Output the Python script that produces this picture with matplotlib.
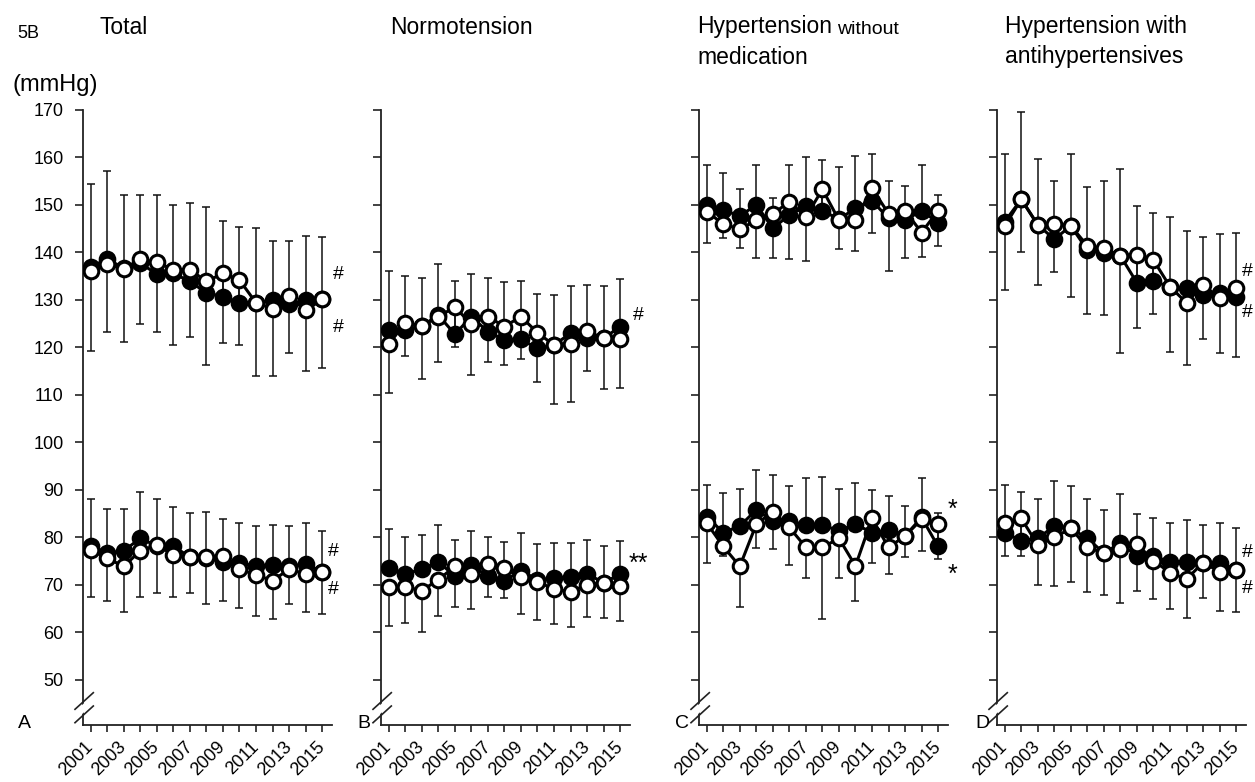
import matplotlib
matplotlib.use("Agg")
import matplotlib.pyplot as plt
from matplotlib.patches import Polygon
from matplotlib.lines import Line2D

plt.rcParams['font.family'] = ['Liberation Sans', 'DejaVu Sans']

years = list(range(2001, 2016))
year_labels = [str(y) if y % 2 == 1 else '' for y in years]
yticks = list(range(50, 171, 10))

# A - Total
a_sbp_f = [137.0, 138.6, 136.7, 137.7, 135.5, 135.6, 133.9, 131.5, 130.7, 129.4, 129.4, 130.0, 129.2, 129.9, 130.1]
a_sbp_o = [136.0, 137.6, 136.5, 138.6, 137.9, 136.4, 136.4, 133.9, 135.6, 134.2, 129.4, 128.2, 130.8, 127.8, 130.1]
a_sbp_hi = [154.4, 157.2, 152.2, 152.0, 152.2, 149.9, 150.5, 149.6, 146.6, 145.3, 145.1, 142.5, 142.5, 143.5, 143.2]
a_sbp_lo = [119.3, 123.3, 121.2, 124.9, 123.3, 120.5, 122.1, 116.2, 121.0, 120.5, 113.9, 113.9, 118.8, 115.1, 115.6]
a_dbp_f = [78.2, 76.7, 77.2, 79.8, 78.2, 78.2, 75.8, 75.6, 74.9, 74.6, 74.0, 74.2, 73.9, 74.4, 72.8]
a_dbp_o = [77.4, 75.6, 73.9, 77.2, 78.4, 76.3, 75.8, 75.8, 76.0, 73.3, 72.1, 70.9, 73.3, 72.3, 72.8]
a_dbp_hi = [88.0, 85.9, 85.9, 89.6, 88.0, 86.5, 85.2, 85.4, 83.9, 83.1, 82.4, 82.6, 82.4, 83.1, 81.4]
a_dbp_lo = [67.4, 66.6, 64.2, 67.4, 68.2, 67.4, 68.2, 65.9, 66.6, 65.1, 63.5, 62.8, 65.9, 64.2, 63.9]

# B - Normotension
b_sbp_f = [123.7, 123.7, 124.5, 126.8, 122.8, 126.5, 123.3, 121.6, 121.7, 119.8, 120.5, 123.0, 121.9, 121.9, 124.4]
b_sbp_o = [120.7, 125.2, 124.5, 126.5, 128.5, 124.9, 126.5, 124.4, 126.5, 123.1, 120.5, 120.7, 123.5, 121.9, 121.7]
b_sbp_hi = [136.2, 135.1, 134.7, 137.6, 134.0, 135.5, 134.7, 133.7, 134.0, 131.3, 131.1, 132.9, 133.2, 132.9, 134.4]
b_sbp_lo = [110.5, 118.1, 113.4, 116.9, 120.2, 114.2, 116.9, 116.2, 117.5, 112.8, 108.0, 108.5, 115.1, 111.3, 111.5]
b_dbp_f = [73.5, 72.3, 73.3, 74.9, 71.8, 74.2, 71.8, 70.9, 73.0, 71.1, 71.4, 71.6, 72.3, 70.5, 72.2]
b_dbp_o = [69.5, 69.6, 68.8, 71.1, 73.9, 72.3, 74.4, 73.5, 71.6, 70.7, 69.1, 68.6, 70.0, 70.5, 69.8]
b_dbp_hi = [81.8, 80.0, 80.5, 82.6, 79.5, 81.4, 80.0, 79.0, 80.9, 78.6, 78.8, 78.8, 79.5, 78.2, 79.3]
b_dbp_lo = [61.4, 61.9, 60.0, 63.5, 65.4, 64.9, 67.4, 67.3, 63.8, 62.6, 61.7, 61.2, 63.3, 63.1, 62.3]

# C - Hypertension without medication
c_sbp_f = [150.0, 148.9, 147.7, 150.0, 145.1, 147.9, 149.8, 148.8, 147.0, 149.3, 150.9, 147.2, 146.8, 148.8, 146.3]
c_sbp_o = [148.6, 146.0, 144.9, 146.8, 148.1, 150.7, 147.5, 153.3, 146.8, 146.8, 153.5, 148.2, 148.8, 144.2, 148.8]
c_sbp_hi = [158.4, 156.7, 153.3, 158.4, 151.5, 158.4, 160.0, 159.5, 157.9, 160.3, 160.7, 155.1, 154.0, 158.4, 152.2]
c_sbp_lo = [141.9, 143.0, 140.9, 138.9, 138.9, 138.6, 138.3, 148.8, 140.7, 140.4, 144.2, 136.0, 138.9, 139.1, 141.4]
c_dbp_f = [84.4, 81.0, 82.4, 85.8, 83.5, 83.5, 82.6, 82.6, 81.4, 82.8, 81.0, 81.6, 80.3, 84.2, 78.1]
c_dbp_o = [83.0, 78.1, 73.9, 82.8, 85.4, 82.1, 77.9, 77.9, 79.8, 74.0, 84.0, 77.9, 80.3, 83.8, 82.8]
c_dbp_hi = [91.1, 89.3, 90.1, 94.2, 93.2, 90.8, 92.5, 92.7, 90.1, 91.4, 89.9, 88.8, 86.7, 92.5, 85.1]
c_dbp_lo = [74.6, 76.1, 65.4, 77.7, 77.5, 74.2, 71.5, 62.8, 71.5, 66.7, 74.6, 72.3, 75.8, 77.2, 75.4]

# D - Hypertension with antihypertensives
d_sbp_f = [146.5, 151.2, 145.8, 142.8, 145.6, 140.5, 139.8, 139.3, 133.6, 133.9, 132.8, 132.5, 131.1, 131.4, 130.6]
d_sbp_o = [145.6, 151.2, 145.8, 146.0, 145.6, 141.4, 140.9, 139.3, 139.5, 138.4, 132.8, 129.4, 133.2, 130.4, 132.5]
d_sbp_hi = [160.7, 169.5, 159.6, 155.1, 160.7, 153.7, 155.1, 157.6, 149.8, 148.4, 147.5, 144.6, 143.2, 143.8, 144.2]
d_sbp_lo = [132.1, 140.0, 133.2, 135.8, 130.6, 127.1, 126.8, 118.8, 124.2, 127.1, 119.1, 116.3, 121.8, 118.8, 117.9]
d_dbp_f = [81.0, 79.3, 79.8, 82.4, 81.9, 79.8, 76.7, 78.8, 76.1, 76.0, 74.9, 74.9, 74.7, 74.6, 73.2]
d_dbp_o = [83.1, 84.0, 78.4, 80.0, 81.9, 77.9, 76.7, 77.5, 78.6, 75.1, 72.6, 71.2, 74.7, 72.8, 73.2]
d_dbp_hi = [91.1, 89.6, 88.0, 91.8, 90.8, 88.0, 85.8, 89.1, 84.9, 84.0, 83.1, 83.7, 82.6, 83.1, 81.9]
d_dbp_lo = [76.1, 76.1, 70.0, 69.8, 70.7, 68.5, 67.9, 66.1, 68.7, 67.0, 64.9, 63.0, 67.2, 64.6, 64.2]

# significance marks per panel: (x, y, text, size)
a_marks = [(2016.0, 135.3, '#', 14), (2016.0, 124.1, '#', 14), (2015.7, 77.0, '#', 14), (2015.7, 69.0, '#', 14)]
b_marks = [(2016.1, 126.8, '#', 14), (2016.1, 74.4, '**', 18)]
c_marks = [(2015.9, 85.8, '*', 18), (2015.9, 72.1, '*', 18)]
d_marks = [(2015.7, 135.9, '#', 14), (2015.7, 127.3, '#', 14), (2015.7, 76.9, '#', 14), (2015.7, 69.2, '#', 14)]

W, H = 1255, 782
fig = plt.figure(figsize=(W / 100, H / 100), dpi=100)


def fx(x):
    return x / W


def fy(y):
    return 1 - y / H


ax_left = [83, 381, 699, 997]
ax_w, ax_top, ax_bot = 249, 110, 725
ax_h = ax_bot - ax_top


def draw_group(ax, filled, opened, hi, lo):
    up = [max(0, h - f) for h, f in zip(hi, filled)]
    dn = [max(0, o - l) for o, l in zip(opened, lo)]
    zeros = [0] * len(years)
    ax.errorbar(years, filled, yerr=[zeros, up], fmt='none', ecolor='#111111',
                elinewidth=1.1, capsize=3, capthick=1.1, zorder=1)
    ax.errorbar(years, opened, yerr=[dn, zeros], fmt='none', ecolor='#111111',
                elinewidth=1.1, capsize=3, capthick=1.1, zorder=1)
    ax.plot(years, filled, '-o', color='black', mfc='black', mec='black',
            ms=10.5, lw=2.2, mew=2.2, zorder=3)
    ax.plot(years, opened, '-o', color='black', mfc='white', mec='black',
            ms=10.5, lw=2.2, mew=2.2, zorder=4)


panels = [
    (a_sbp_f, a_sbp_o, a_sbp_hi, a_sbp_lo, a_dbp_f, a_dbp_o, a_dbp_hi, a_dbp_lo, a_marks, 'A', 24),
    (b_sbp_f, b_sbp_o, b_sbp_hi, b_sbp_lo, b_dbp_f, b_dbp_o, b_dbp_hi, b_dbp_lo, b_marks, 'B', 364),
    (c_sbp_f, c_sbp_o, c_sbp_hi, c_sbp_lo, c_dbp_f, c_dbp_o, c_dbp_hi, c_dbp_lo, c_marks, 'C', 682),
    (d_sbp_f, d_sbp_o, d_sbp_hi, d_sbp_lo, d_dbp_f, d_dbp_o, d_dbp_hi, d_dbp_lo, d_marks, 'D', 982),
]

for i, p in enumerate(panels):
    ax = fig.add_axes([fx(ax_left[i]), fy(ax_bot), ax_w / W, ax_h / H])
    draw_group(ax, p[0], p[1], p[2], p[3])
    draw_group(ax, p[4], p[5], p[6], p[7])
    for mx, my, mt, ms in p[8]:
        ax.text(mx, my, mt, fontsize=ms, ha='center', va='center', clip_on=False)

    ax.set_xlim(2000.53, 2015.6)
    ax.set_ylim(40.5, 170)
    ax.spines[['top', 'right']].set_visible(False)
    for s in ['left', 'bottom']:
        ax.spines[s].set_linewidth(1.3)
        ax.spines[s].set_color('#222222')
    ax.set_yticks(yticks)
    ax.set_xticks(years)
    ax.set_xticklabels(year_labels, rotation=45, ha='right', va='center',
                       rotation_mode='anchor', fontsize=13)
    ax.tick_params(axis='x', direction='out', length=5, width=1.2, pad=9, color='#222222')
    ax.tick_params(axis='y', direction='out', length=6, width=1.2, pad=8,
                   labelsize=13, color='#222222')
    if i > 0:
        ax.tick_params(axis='y', labelleft=False)

    # axis break on the y axis
    def px(dx, dy):
        return (dx / ax_w, dy / ax_h)
    gap = Polygon([px(-8, 4.5), px(10.3, 21.2), px(10.3, 30.1), px(-8, 13.5)],
                  closed=True, transform=ax.transAxes, facecolor='white',
                  edgecolor='none', clip_on=False, zorder=5)
    ax.add_patch(gap)
    for y0, y1 in [(15.7, 32.3), (2.3, 19.0)]:
        a0, b0 = px(-8, y0)
        a1, b1 = px(10.3, y1)
        ax.add_line(Line2D([a0, a1], [b0, b1], transform=ax.transAxes,
                           color='#222222', lw=1.2, clip_on=False, zorder=6))

    fig.text(fx(p[10]), fy(724), p[9], fontsize=14, ha='center', va='center')

# titles and labels
fig.text(fx(17), fy(33), '5B', fontsize=13, ha='left', va='center')
fig.text(fx(12), fy(85), '(mmHg)', fontsize=17, ha='left', va='center')
fig.text(fx(100), fy(27), 'Total', fontsize=16.5, ha='left', va='center')
fig.text(fx(390), fy(27), 'Normotension', fontsize=16.5, ha='left', va='center')
t3 = fig.text(fx(697), fy(27), 'Hypertension', fontsize=16.5, ha='left', va='center')
fig.text(fx(697), fy(57), 'medication', fontsize=16.5, ha='left', va='center')
fig.text(fx(1005), fy(27), 'Hypertension with', fontsize=16.5, ha='left', va='center')
fig.text(fx(1005), fy(57), 'antihypertensives', fontsize=16.5, ha='left', va='center')
fig.canvas.draw()
bb = t3.get_window_extent()
fig.text((bb.x1 + 5) / W, bb.y0 / H, 'without', fontsize=14, ha='left', va='bottom')

fig.savefig('out.png', dpi=100)
